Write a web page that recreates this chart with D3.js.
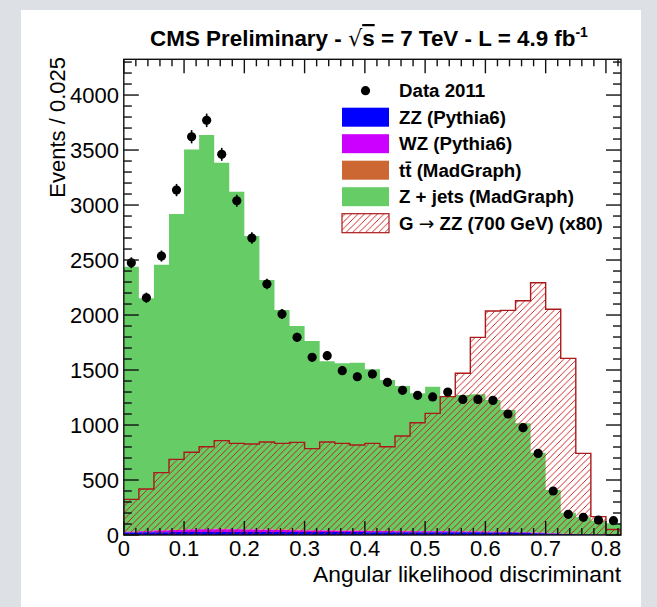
<!DOCTYPE html>
<html>
<head>
<meta charset="utf-8">
<script src="https://cdn.jsdelivr.net/npm/d3@7"></script>
<style>
  html, body { margin: 0; padding: 0; background: #dde1e6; }
  svg { display: block; }
</style>
</head>
<body>
<svg id="chart" width="657" height="607"></svg>
<script>
// ---- Data (bin width 0.025, 33 bins from 0 to 0.825) ----
const binWidth = 0.025;
const binStarts = d3.range(33).map(i => +(i * binWidth).toFixed(3));

const dataCounts = [2475, 2157, 2536, 3136, 3621, 3770, 3461, 3039, 2700, 2282, 2009, 1797, 1615, 1630, 1494, 1439, 1464, 1388, 1315, 1270, 1255, 1300, 1233, 1233, 1224, 1100, 976, 742, 400, 188, 161, 136, 130];

const zzCounts = [22, 24, 26, 27, 28, 28, 28, 28, 28, 28, 28, 28, 28, 27, 27, 27, 26, 26, 26, 25, 25, 25, 24, 24, 23, 22, 20, 17, 12, 8, 6, 5, 4];
const wzCounts = [8, 11, 14, 18, 22, 24, 25, 24, 22, 20, 18, 16, 14, 13, 12, 11, 10, 10, 9, 9, 8, 8, 7, 7, 6, 6, 5, 4, 3, 2, 2, 1, 1];
const ttCounts = [2, 2, 3, 3, 3, 3, 3, 3, 3, 3, 3, 3, 3, 3, 3, 3, 3, 3, 3, 2, 2, 2, 2, 2, 2, 2, 2, 1, 1, 1, 1, 1, 1];
const zjetsCounts = [2407, 2115, 2414, 2870, 3453, 3581, 3329, 3066, 2665, 2267, 1996, 1853, 1719, 1537, 1519, 1526, 1467, 1370, 1317, 1252, 1313, 1223, 1240, 1246, 1196, 1106, 988, 726, 393, 192, 152, 123, 100];

const signalCounts = [324, 418, 567, 688, 752, 803, 858, 833, 827, 845, 833, 842, 785, 845, 833, 818, 833, 803, 900, 1021, 1106, 1258, 1470, 1797, 2036, 2042, 2130, 2294, 2052, 1606, 742, 167, 50];

const xTickLabels = ["0", "0.1", "0.2", "0.3", "0.4", "0.5", "0.6", "0.7", "0.8"];
const yTickLabels = ["0", "500", "1000", "1500", "2000", "2500", "3000", "3500", "4000"];

const legendLabels = ["Data 2011", "ZZ (Pythia6)", "WZ (Pythia6)", "tt̄ (MadGraph)", "Z + jets (MadGraph)", "G → ZZ (700 GeV) (x80)"];
const colors = { zz: "#0000ff", wz: "#cc00ff", tt: "#cc6633", zjets: "#66cc66", sig: "#cc1111", sigLine: "#aa1a1a" };

// ---- Layout ----
const svg = d3.select("#chart");
const plot = { left: 123.8, right: 621, top: 59.3, bottom: 535 };

svg.append("rect").attr("x", 21).attr("y", 10).attr("width", 620).attr("height", 600).attr("fill", "#ffffff");

const x = d3.scaleLinear().domain([0, 0.825]).range([plot.left, plot.right]);
const y = d3.scaleLinear().domain([0, 4325]).range([plot.bottom, plot.top]);

const defs = svg.append("defs");
const pat = defs.append("pattern").attr("id", "hatch").attr("patternUnits", "userSpaceOnUse")
  .attr("width", 6.5).attr("height", 6.5);
pat.append("path").attr("d", "M0,6.5 L6.5,0 M-1,1 L1,-1 M5.5,7.5 L7.5,5.5")
  .attr("stroke", colors.sig).attr("stroke-width", 0.9).attr("fill", "none");
defs.append("clipPath").attr("id", "clip").append("rect")
  .attr("x", plot.left).attr("y", plot.top).attr("width", plot.right - plot.left).attr("height", plot.bottom - plot.top);

// ---- Stacked backgrounds ----
const rows = binStarts.map((b, i) => ({ b, zz: zzCounts[i], wz: wzCounts[i], tt: ttCounts[i], zjets: zjetsCounts[i] }));
const stack = d3.stack().keys(["zz", "wz", "tt", "zjets"]);
const layers = stack(rows);

function stepArea(layer) {
  const pts = [];
  layer.forEach((d, i) => {
    const x0 = binStarts[i], x1 = binStarts[i] + binWidth;
    pts.push([x0, d[0], d[1]]);
    pts.push([x1, d[0], d[1]]);
  });
  return d3.area().x(p => x(p[0])).y0(p => y(p[1])).y1(p => y(p[2])).curve(d3.curveLinear)(pts);
}
const g = svg.append("g").attr("clip-path", "url(#clip)");
layers.slice().reverse().forEach(layer => {
  g.append("path").attr("d", stepArea(layer)).attr("fill", colors[layer.key]).attr("stroke", "none");
});

// ---- Signal (hatched overlay) ----
const sigPts = [[0, 0]];
signalCounts.forEach((v, i) => { sigPts.push([binStarts[i], v]); sigPts.push([binStarts[i] + binWidth, v]); });
sigPts.push([0.825, 0]);
const sigLine = d3.line().x(p => x(p[0])).y(p => y(p[1]));
g.append("path").attr("d", sigLine(sigPts)).attr("fill", "url(#hatch)").attr("stroke", colors.sigLine).attr("stroke-width", 1.4);

// ---- Data points ----
const pts = svg.append("g");
dataCounts.forEach((v, i) => {
  const cx = x(binStarts[i] + binWidth / 2);
  const e = Math.sqrt(v);
  pts.append("line").attr("x1", cx).attr("x2", cx).attr("y1", y(v - e)).attr("y2", y(v + e))
    .attr("stroke", "#000").attr("stroke-width", 1.6);
  pts.append("circle").attr("cx", cx).attr("cy", y(v)).attr("r", 4.6).attr("fill", "#000");
});

// ---- Axes / frame ----
const ax = svg.append("g").attr("stroke", "#111").attr("stroke-width", 1.4);
const xMajor = xTickLabels.map(s => +s);
const xMinor = d3.range(0, 0.8251, 0.02).filter(v => !xMajor.some(m => Math.abs(m - v) < 1e-6));
const yMajor = yTickLabels.map(s => +s);
const yMinor = d3.range(0, 4326, 100).filter(v => v % 500 !== 0);

xMajor.forEach(v => {
  ax.append("line").attr("x1", x(v)).attr("x2", x(v)).attr("y1", plot.bottom).attr("y2", plot.bottom - 14);
  ax.append("line").attr("x1", x(v)).attr("x2", x(v)).attr("y1", plot.top).attr("y2", plot.top + 14);
});
xMinor.forEach(v => {
  ax.append("line").attr("x1", x(v)).attr("x2", x(v)).attr("y1", plot.bottom).attr("y2", plot.bottom - 7);
  ax.append("line").attr("x1", x(v)).attr("x2", x(v)).attr("y1", plot.top).attr("y2", plot.top + 7);
});
yMajor.forEach(v => {
  ax.append("line").attr("x1", plot.left).attr("x2", plot.left + 15).attr("y1", y(v)).attr("y2", y(v));
  ax.append("line").attr("x1", plot.right).attr("x2", plot.right - 15).attr("y1", y(v)).attr("y2", y(v));
});
yMinor.forEach(v => {
  ax.append("line").attr("x1", plot.left).attr("x2", plot.left + 8).attr("y1", y(v)).attr("y2", y(v));
  ax.append("line").attr("x1", plot.right).attr("x2", plot.right - 8).attr("y1", y(v)).attr("y2", y(v));
});
ax.append("rect").attr("x", plot.left).attr("y", plot.top).attr("width", plot.right - plot.left)
  .attr("height", plot.bottom - plot.top).attr("fill", "none");

const font = "'Liberation Sans', Arial, Helvetica, sans-serif";
const lab = svg.append("g").attr("font-family", font).attr("font-size", 22).attr("fill", "#000");
xTickLabels.forEach(t => {
  lab.append("text").attr("x", x(+t)).attr("y", 556).attr("text-anchor", "middle").text(t);
});
yTickLabels.forEach(t => {
  lab.append("text").attr("x", 119).attr("y", y(+t)).attr("dy", "0.36em").attr("text-anchor", "end").text(t);
});
lab.append("text").attr("x", plot.right).attr("y", 582).attr("font-size", 22.8).attr("text-anchor", "end").text("Angular likelihood discriminant");
lab.append("text").attr("transform", "translate(65,57) rotate(-90)").attr("text-anchor", "end").text("Events / 0.025");

// ---- Title ----
const title = svg.append("text").attr("x", 369).attr("y", 46).attr("text-anchor", "middle")
  .attr("font-family", font).attr("font-weight", "bold").attr("font-size", 22.4).attr("fill", "#000");
title.append("tspan").text("CMS Preliminary - ");
title.append("tspan").attr("font-family", "'DejaVu Sans', sans-serif").attr("font-weight", "normal").text("√");
title.append("tspan").attr("text-decoration", "overline").text("s");
title.append("tspan").text(" = 7 TeV - L = 4.9 fb");
title.append("tspan").attr("dy", -9).attr("font-size", 14).text("-1");

// ---- Legend ----
const leg = svg.append("g").attr("font-family", font).attr("font-weight", "bold").attr("font-size", 18.7);
const legY0 = 90.7, legDy = 26.5;
legendLabels.forEach((t, i) => {
  const cy = legY0 + i * legDy;
  if (i === 0) {
    leg.append("circle").attr("cx", 365.5).attr("cy", cy).attr("r", 4.6).attr("fill", "#000");
  } else {
    const fill = [null, colors.zz, colors.wz, colors.tt, colors.zjets, "url(#hatch)"][i];
    const r = leg.append("rect").attr("x", 342).attr("y", cy - 9.5).attr("width", 47).attr("height", 19).attr("fill", fill);
    if (i === 5) r.attr("stroke", colors.sigLine).attr("stroke-width", 1.2);
  }
  const tx = leg.append("text").attr("x", 399).attr("y", cy).attr("dy", "0.36em");
  if (t.includes("→")) {
    const parts = t.split("→");
    tx.append("tspan").text(parts[0]);
    tx.append("tspan").attr("font-family", "'DejaVu Sans', sans-serif").attr("font-weight", "normal").text("→");
    tx.append("tspan").text(parts[1]);
  } else {
    tx.text(t);
  }
});
</script>
</body>
</html>
